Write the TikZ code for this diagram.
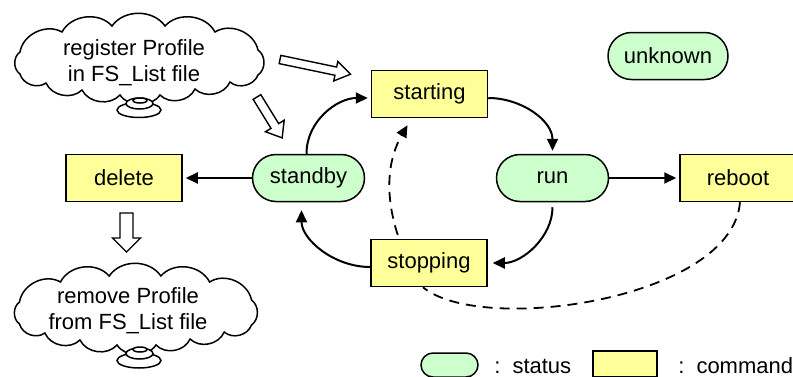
\documentclass[tikz,border=0pt]{standalone}
\usepackage{fontspec}
\setmainfont{Liberation Sans}
\usetikzlibrary{shapes.misc,arrows.meta}
\definecolor{statgreen}{HTML}{CCFFCC}
\definecolor{cmdyellow}{HTML}{FFFF99}

% outline of a thought cloud, lobes joined at cusps
\newcommand{\cloudoutline}{%
  (20,-52) to[lobe] (62,-32) to[lobe] (112,-26) to[lobe] (165,-26)
  to[lobe] (215,-32) to[lobe] (258,-50) to[lobe] (258,-75)
  to[lobe] (230,-82) to[lobe] (195,-89) to[lobe] (160,-95)
  to[lobe] (120,-95) to[lobe] (82,-90) to[lobe] (46,-83)
  to[lobe] (20,-74) to[lobe] (20,-52) -- cycle}

\begin{document}
\begin{tikzpicture}[x=0.5pt,y=0.5pt,
  every node/.style={font=\fontsize{11}{13}\selectfont},
  cmdbox/.style={draw, line width=0.75pt, fill=cmdyellow, minimum width=58pt, minimum height=23.5pt, inner sep=0pt},
  statbox/.style={draw, line width=0.75pt, fill=statgreen, rounded rectangle, minimum width=56pt, minimum height=23.5pt, inner sep=0pt},
  flow/.style={line width=1pt, -{Triangle[length=6pt,width=5.5pt]}, shorten >=1.5pt},
  dashflow/.style={line width=0.9pt, dash pattern=on 5pt off 3.5pt},
  blockarrow/.style={draw, line width=0.7pt, fill=white, line join=miter},
  lobe/.style={bend left=55},
  thought/.style={draw, line width=0.75pt, fill=white},
  puff/.style={draw, line width=0.75pt, fill=white}
]
\useasboundingbox (0,0) rectangle (793,-376);

% thought clouds with their small bubbles
\draw[thought] \cloudoutline;
\node[align=center] (regtext) at (134,-63) {register Profile\\in FS\_List file};
\draw[puff] (139,-110) ellipse [x radius=22, y radius=7.5];
\draw[puff] (139.5,-103.5) ellipse [x radius=13.5, y radius=5.5];
\draw[puff] (140,-100.5) ellipse [x radius=7, y radius=2.5];

\begin{scope}[shift={(0,-250)}, xscale=0.975]
  \draw[thought] \cloudoutline;
\end{scope}
\node[align=center] (remtext) at (128,-311) {remove Profile\\from FS\_List file};
\draw[puff] (139,-360.5) ellipse [x radius=22, y radius=7.5];
\draw[puff] (139.5,-353.5) ellipse [x radius=13.5, y radius=5.5];
\draw[puff] (140,-349.5) ellipse [x radius=7, y radius=2.5];

% hollow block arrows
\begin{scope}[shift={(280,-59.5)}, rotate=-11.8]
  \draw[blockarrow] (0,4.2) -- (57,4.2) -- (57,10) -- (72,0) -- (57,-10) -- (57,-4.2) -- (0,-4.2) -- cycle;
\end{scope}
\begin{scope}[shift={(257,-97)}, rotate=-58.4]
  \draw[blockarrow] (0,4.5) -- (34,4.5) -- (34,11) -- (48,0) -- (34,-11) -- (34,-4.5) -- (0,-4.5) -- cycle;
\end{scope}
\begin{scope}[shift={(126.5,-213)}, rotate=-90]
  \draw[blockarrow] (0,6.5) -- (25,6.5) -- (25,14) -- (39,0) -- (25,-14) -- (25,-6.5) -- (0,-6.5) -- cycle;
\end{scope}

% commands and states
\node[cmdbox] (starting) at (429.5,-94) {starting};
\node[cmdbox] (stopping) at (429,-263) {stopping};
\node[cmdbox] (delete) at (124,-178) {delete};
\node[cmdbox] (reboot) at (738,-178) {reboot};
\node[statbox] (standby) at (308.5,-178) {standby};
\node[statbox] (run) at (552.5,-178) {run};
\node[statbox, minimum width=60pt] (unknown) at (668,-56) {unknown};

% transitions
\draw[flow] ([xshift=-1pt]standby.north) to[out=90,in=180] ([yshift=-2pt]starting.west);
\draw[flow] ([yshift=-2pt]starting.east) to[out=0,in=90] (run.north);
\draw[flow, shorten <=2.5pt, shorten >=2.5pt] (run.south) to[out=-90,in=0] (stopping.east);
\draw[flow, shorten >=4pt] ([yshift=-2pt]stopping.west) to[out=180,in=-90] ([xshift=-3.5pt]standby.south);
\draw[flow] (run.east) -- (reboot.west);
\draw[flow] (standby.west) -- (delete.east);
\draw[flow, dashflow, shorten <=2pt, shorten >=4pt] ([xshift=-15pt]stopping.north) to[out=108,in=-120] ([xshift=-9pt]starting.south);
\draw[dashflow] ([xshift=1pt]reboot.south) .. controls +(-8,-98) and +(57,-48) .. ([xshift=-3pt]stopping.south);

% legend
\node[statbox, minimum width=28.5pt, minimum height=12pt] (legstat) at (449.5,-365) {};
\node[anchor=base west, inner sep=0pt] (legstattext) at (494,-373) {:\hspace{6pt}status};
\node[cmdbox, minimum width=32pt, minimum height=13pt] (legcmd) at (625,-364) {};
\node[anchor=base west, inner sep=0pt] (legcmdtext) at (678,-373) {:\hspace{6pt}command};
\end{tikzpicture}
\end{document}
